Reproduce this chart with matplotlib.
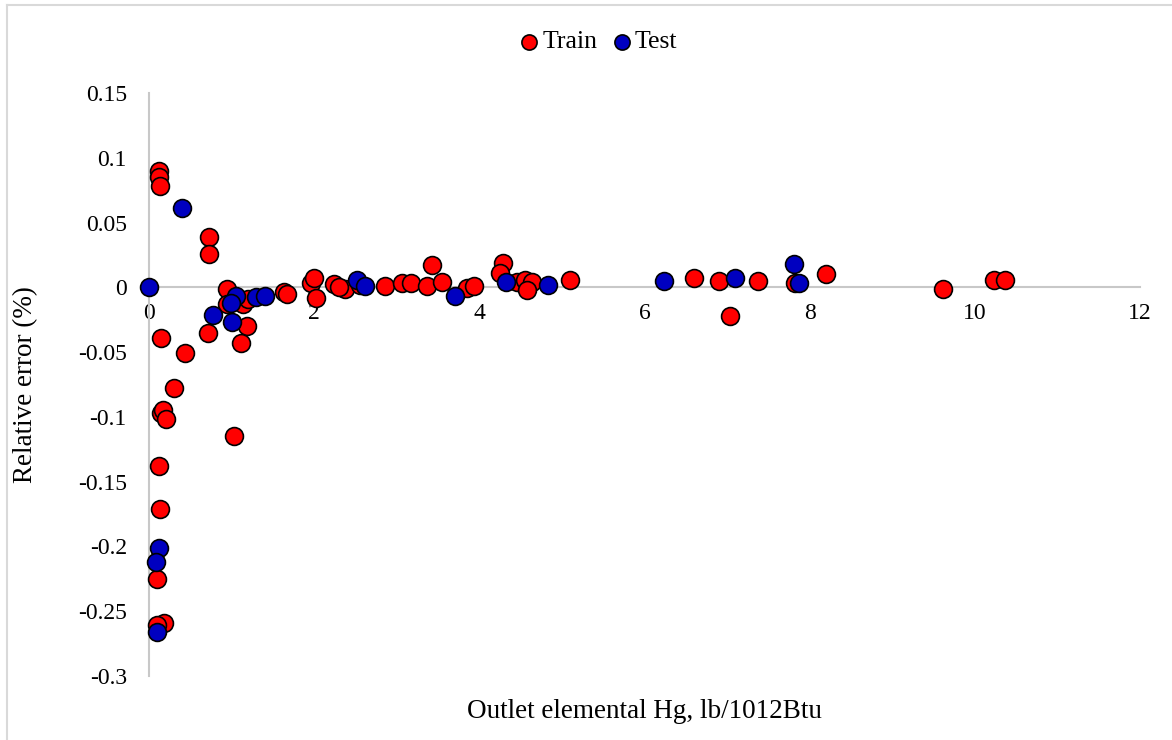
import matplotlib
matplotlib.use('Agg')
import matplotlib.pyplot as plt
from matplotlib.lines import Line2D

plt.rcParams['font.family'] = ['Liberation Serif', 'DejaVu Serif']

# Train points (outlet elemental Hg, relative error)
train_x = [0.125, 0.125, 0.13, 0.73, 0.73, 0.95, 0.94, 1.14, 1.20, 1.63, 1.67, 1.19, 0.71, 0.15,
           1.12, 0.44, 0.30, 0.15, 0.17, 0.21, 1.03, 0.125, 0.13, 0.093, 0.185, 0.093,
           1.96, 2.0, 2.02, 2.24, 2.37, 2.30, 2.55, 2.86, 3.06, 3.17, 3.37, 3.43, 3.55, 3.85,
           3.93, 4.29, 4.25, 4.46, 4.55, 4.64, 4.58, 5.10, 6.60, 6.90, 7.04, 7.37, 7.82, 8.20,
           9.62, 10.23, 10.37]
train_y = [0.090, 0.085, 0.078, 0.039, 0.026, -0.001, -0.013, -0.013, -0.009, -0.0036, -0.005,
           -0.030, -0.035, -0.039, -0.043, -0.051, -0.078, -0.097, -0.095, -0.102, -0.115,
           -0.138, -0.171, -0.225, -0.259, -0.2605,
           0.0033, 0.0072, -0.0079, 0.0023, -0.0013, 0.0, 0.0015, 0.0013, 0.0033, 0.0033,
           0.0008, 0.017, 0.0038, -0.0005, 0.0013, 0.019, 0.011, 0.0038, 0.006, 0.0044,
           -0.0023, 0.006, 0.0069, 0.0048, -0.0223, 0.0048, 0.0033, 0.010, -0.0015, 0.0059,
           0.006]

# Test points
test_x = [0.40, 0.0, 1.05, 0.99, 1.30, 1.40, 0.77, 1.01, 0.117, 0.085, 0.093,
          2.52, 2.62, 3.71, 4.32, 4.83, 6.24, 7.09, 7.81, 7.87]
test_y = [0.061, 0.0, -0.007, -0.012, -0.0075, -0.0065, -0.0215, -0.027, -0.201, -0.212,
          -0.266, 0.006, 0.0008, -0.0069, 0.0038, 0.0018, 0.0048, 0.0069, 0.018, 0.0033]

x_ticks = [0, 2, 4, 6, 8, 10, 12]
y_ticks = [0.15, 0.1, 0.05, 0, -0.05, -0.1, -0.15, -0.2, -0.25, -0.3]
y_labels = ['0.15', '0.1', '0.05', '0', '-0.05', '-0.1', '-0.15', '-0.2', '-0.25', '-0.3']

fig = plt.figure(figsize=(11.72, 7.4), dpi=100)
ax = fig.add_axes([149 / 1172, 1 - 676 / 740, (1140 - 149) / 1172, (676 - 93) / 740])

grey = '#c8c8c8'
ax.scatter(train_x, train_y, s=165, c='#ff0000', edgecolors='black', linewidths=1.2,
           label='Train', zorder=3, clip_on=False)
ax.scatter(test_x, test_y, s=165, c='#0000c0', edgecolors='black', linewidths=1.2,
           label='Test', zorder=3, clip_on=False)

ax.set_xlim(0, 12)
ax.set_ylim(-0.3, 0.15)
ax.set_xticks(x_ticks)
ax.set_yticks(y_ticks)
ax.set_yticklabels(y_labels)

for s in ('top', 'right'):
    ax.spines[s].set_visible(False)
ax.spines['bottom'].set_position(('data', 0))
ax.spines['left'].set_color(grey)
ax.spines['bottom'].set_color(grey)
ax.spines['left'].set_linewidth(1.5)
ax.spines['bottom'].set_linewidth(1.5)
ax.tick_params(axis='both', length=0, labelsize=17)
ax.tick_params(axis='x', pad=11)
ax.tick_params(axis='y', pad=16)

ax.set_xlabel('Outlet elemental Hg, lb/1012Btu', fontsize=19.5)
ax.xaxis.set_label_coords(0.5, -0.04)
ax.set_ylabel('Relative error (%)', fontsize=19.5)
ax.yaxis.set_label_coords(-0.112, 0.5)

fig.legend(loc='center', bbox_to_anchor=(598 / 1172, 1 - 42 / 740), ncol=2, frameon=False,
           fontsize=18.5, handletextpad=0.1, columnspacing=0.55, markerscale=0.85,
           handlelength=0.8)

# chart border (left and top visible)
fig.add_artist(Line2D([7 / 1172, 7 / 1172], [0, 1 - 5 / 740], color='#d9d9d9', lw=1.5))
fig.add_artist(Line2D([7 / 1172, 1], [1 - 5 / 740, 1 - 5 / 740], color='#d9d9d9', lw=1.5))

fig.savefig('out.png', dpi=100)
